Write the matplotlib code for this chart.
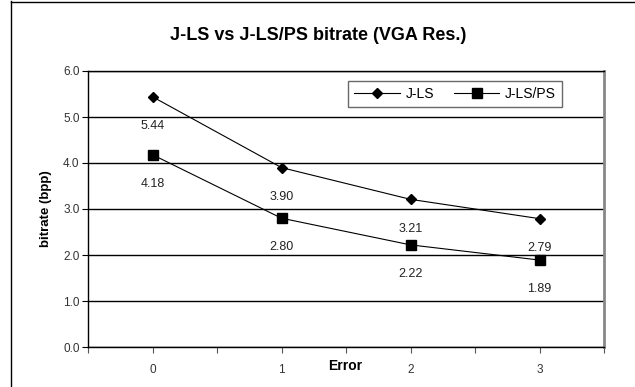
import matplotlib
matplotlib.use("Agg")
import matplotlib.pyplot as plt
from matplotlib.lines import Line2D
from matplotlib.ticker import FixedLocator, NullFormatter

categories = ["0", "1", "2", "3"]
jls = [5.44, 3.90, 3.21, 2.79]
jlsps = [4.18, 2.80, 2.22, 1.89]
yticks = [0.0, 1.0, 2.0, 3.0, 4.0, 5.0, 6.0]

plt.rcParams['font.family'] = ['Liberation Sans', 'DejaVu Sans']

fig = plt.figure(figsize=(6.35, 3.87), dpi=100)
ax = fig.add_axes([88/635, 40/387, (604-88)/635, (347-71)/387])

x = list(range(len(categories)))
ax.plot(x, jls, color='black', lw=0.8, marker='D', markersize=5.5, label='J-LS', zorder=3)
ax.plot(x, jlsps, color='black', lw=0.8, marker='s', markersize=6.5, label='J-LS/PS', zorder=3)

for xi, v in zip(x, jls):
    ax.annotate(f"{v:.2f}", (xi, v), xytext=(0, -21), textcoords='offset points',
                ha='center', va='center', fontsize=9, color='#222222')
for xi, v in zip(x, jlsps):
    ax.annotate(f"{v:.2f}", (xi, v), xytext=(0, -21), textcoords='offset points',
                ha='center', va='center', fontsize=9, color='#222222')

ax.set_xlim(-0.5, len(categories) - 0.5)
ax.set_ylim(0, 6)
ax.set_yticks(yticks)
ax.set_yticklabels([f"{t:.1f}" for t in yticks], fontsize=8.5, color='#333333')
ax.set_xticks(x)
ax.set_xticklabels(categories, fontsize=8.5, color='#333333')
ax.xaxis.set_minor_locator(FixedLocator([i - 0.5 for i in range(len(categories) + 1)]))
ax.xaxis.set_minor_formatter(NullFormatter())
ax.tick_params(axis='x', which='both', direction='out', length=4, width=0.8, color='#555555', pad=8)
ax.tick_params(axis='y', direction='out', length=4, width=0.8, pad=2)
ax.yaxis.grid(True, color='black', lw=1)
ax.set_axisbelow(True)

for s in ['left', 'bottom', 'top']:
    ax.spines[s].set_color('black')
    ax.spines[s].set_linewidth(1)
ax.spines['right'].set_color('#888888')
ax.spines['right'].set_linewidth(2)

ax.set_ylabel("bitrate (bpp)", fontsize=9.5, fontweight='bold', labelpad=8)
ax.set_xlabel("Error", fontsize=10, fontweight='bold')
ax.xaxis.set_label_coords((345-88)/516, -0.045)

fig.text(318/635, 1 - 35/387, "J-LS vs J-LS/PS bitrate (VGA Res.)", ha='center', va='center',
         fontsize=13, fontweight='bold')

leg = ax.legend(ncol=2, loc='upper left', bbox_to_anchor=((348-88)/516, 1 - (81-71)/276),
                borderaxespad=0, fontsize=10, frameon=True, fancybox=False, edgecolor='#444444',
                handlelength=3.3, columnspacing=1.4, handletextpad=0.4, borderpad=0.45)
leg.get_frame().set_linewidth(1)

fig.add_artist(Line2D([11/635, 11/635], [0, 1 - 1/387], transform=fig.transFigure, color='black', lw=1))
fig.add_artist(Line2D([11/635, 1], [1 - 1.5/387, 1 - 1.5/387], transform=fig.transFigure, color='black', lw=1))

fig.savefig("out.png", dpi=100)
